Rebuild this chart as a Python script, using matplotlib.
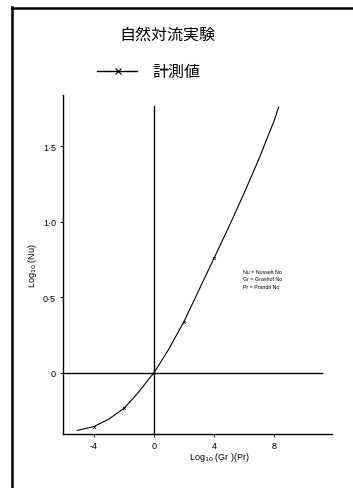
import matplotlib
matplotlib.use("Agg")
import matplotlib.pyplot as plt
from matplotlib.lines import Line2D

plt.rcParams['font.family'] = ['Liberation Sans', 'Noto Sans CJK JP', 'DejaVu Sans']

# Data
log_grpr = [-5.1, -4.0, -3.0, -2.0, -1.0, -0.3, 0.0, 1.0, 2.0, 3.0, 4.0, 5.0, 6.0, 7.0, 8.0, 8.3]
log_nu = [-0.38, -0.355, -0.305, -0.235, -0.125, -0.035, 0.0, 0.16, 0.34, 0.55, 0.76, 0.97, 1.19, 1.42, 1.67, 1.76]
marker_x = [-4.0, -2.0, 2.0, 4.0]
marker_y = [-0.355, -0.235, 0.34, 0.76]
xticks = [-4, 0, 4, 8]
xticklabels = ["-4", "0", "4", "8"]
yticks = [0, 0.5, 1.0, 1.5]
yticklabels = ["0", "0·5", "1·0", "1·5"]
title = "自然対流実験"
legend_label = "計測値"
notes = ["Nu = Nusselt No", "Gr = Grashof No", "Pr = Prandtl No"]

fig = plt.figure(figsize=(3.53, 4.89), dpi=100)
W, H = 353, 489

def fx(px):
    return px / W

def fy(py):
    return 1 - py / H

ax = fig.add_axes([fx(63), fy(435), fx(332) - fx(63), fy(96) - fy(435)])
ax.set_xlim(-6.05, 11.85)
ax.set_ylim(-0.404, 1.84)
for s in ['top', 'right']:
    ax.spines[s].set_visible(False)
for s in ['left', 'bottom']:
    ax.spines[s].set_linewidth(1.0)
    ax.spines[s].set_color('black')

ax.plot(log_grpr, log_nu, color='black', lw=0.8)
ax.plot(marker_x, marker_y, ls='none', marker='x', ms=2.0, mew=0.5, color='black')

# reference lines at x=0 and y=0
ax.plot([0, 0], [-0.404, 1.77], color='black', lw=1.0)
ax.plot([-6.05, 11.2], [0, 0], color='black', lw=1.0)

ax.set_xticks(xticks)
ax.set_xticklabels(xticklabels, fontsize=6.5)
ax.set_yticks(yticks)
ax.set_yticklabels(yticklabels, fontsize=6.5)
ax.tick_params(length=2, width=0.6, pad=3)

ax.set_ylabel("Log$_{10}$ (Nu)", fontsize=6.5)
ax.yaxis.set_label_coords(-0.09, 0.5)
fig.text(fx(219), fy(458), "Log$_{10}$ (Gr )(Pr)", fontsize=6.5, ha='center', va='center')

fig.text(fx(167), fy(35), title, fontsize=11.5, ha='center', va='center',
         family=['Noto Sans CJK JP', 'DejaVu Sans'])
fig.add_artist(Line2D([fx(97), fx(137)], [fy(72), fy(72)], color='black', lw=1.0))
fig.add_artist(Line2D([fx(118)], [fy(72)], marker='x', ms=4, mew=0.8, color='black'))
fig.text(fx(152), fy(72), legend_label, fontsize=11.5, ha='left', va='center',
         family=['Noto Sans CJK JP', 'DejaVu Sans'])

for i, n in enumerate(notes):
    fig.text(fx(243), fy(272 + 7.7 * i), n, fontsize=3.8, ha='left', va='center')

# page border lines
fig.add_artist(Line2D([fx(12), fx(12)], [fy(8), fy(489)], color='black', lw=1.8))
fig.add_artist(Line2D([fx(12), fx(353)], [fy(9), fy(9)], color='black', lw=1.8))

fig.savefig("out.png", dpi=100, facecolor='white')
